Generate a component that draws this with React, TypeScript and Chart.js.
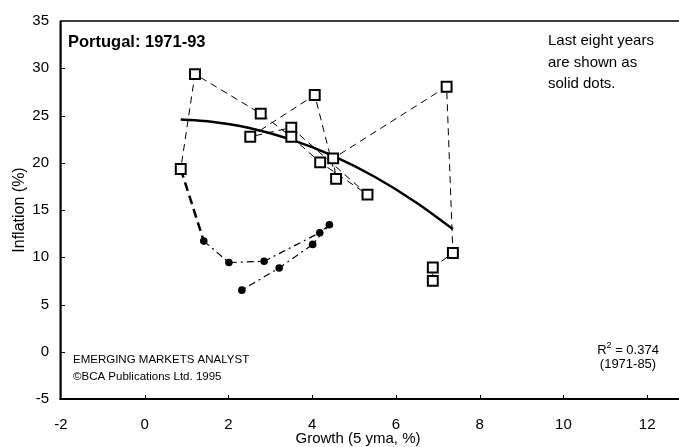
import React, { useEffect, useRef } from 'react';
import { Chart, registerables } from 'chart.js';

Chart.register(...registerables);

// 1971-85: hollow squares (growth 5yma %, inflation %)
const years1 = [1971, 1972, 1973, 1974, 1975, 1976, 1977, 1978, 1979, 1980, 1981, 1982, 1983, 1984, 1985];
const growth1 = [6.88, 6.88, 7.36, 7.21, 4.5, 4.57, 4.06, 2.52, 3.5, 5.32, 4.19, 3.5, 2.77, 1.2, 0.86];
const inflation1 = [7.5, 8.91, 10.45, 28.05, 20.46, 18.29, 27.17, 22.75, 23.72, 16.63, 20.04, 22.75, 25.2, 29.38, 19.34];

// 1986-93: solid dots
const years2 = [1986, 1987, 1988, 1989, 1990, 1991, 1992, 1993];
const growth2 = [1.41, 2.01, 2.85, 4.18, 4.41, 4.01, 3.21, 2.32];
const inflation2 = [11.71, 9.44, 9.57, 12.6, 13.44, 11.36, 8.87, 6.52];

// fitted trend curve (1971-85)
const trendGrowth = [0.86, 1.5, 2.5, 3.5, 4.5, 5.5, 6.5, 7.36];
const trendInflation = [24.58, 24.39, 23.68, 22.45, 20.73, 18.49, 15.75, 12.98];

const xTicks = [-2, 0, 2, 4, 6, 8, 10, 12];
const yTicks = [-5, 0, 5, 10, 15, 20, 25, 30, 35];

const FONT = '"Liberation Sans", Arial, Helvetica, sans-serif';

const decor = {
  id: 'decor',
  afterDatasetsDraw(chart: any) {
    const { ctx, chartArea: a, scales, width } = chart;
    const x = scales.x;
    const y = scales.y;
    ctx.save();
    ctx.strokeStyle = '#000';
    ctx.setLineDash([]);
    // frame
    ctx.lineWidth = 1.3;
    ctx.beginPath();
    ctx.moveTo(a.left, a.top);
    ctx.lineTo(width, a.top);
    ctx.stroke();
    ctx.lineWidth = 2.2;
    ctx.beginPath();
    ctx.moveTo(a.left - 0.4, a.top - 0.6);
    ctx.lineTo(a.left - 0.4, a.bottom + 1);
    ctx.stroke();
    ctx.lineWidth = 2;
    ctx.beginPath();
    ctx.moveTo(a.left - 1.5, a.bottom);
    ctx.lineTo(width, a.bottom);
    ctx.stroke();
    // inward ticks
    ctx.lineWidth = 1;
    ctx.beginPath();
    yTicks.slice(1, -1).forEach((v) => {
      const py = Math.round(y.getPixelForValue(v)) + 0.5;
      ctx.moveTo(a.left, py);
      ctx.lineTo(a.left + 4, py);
    });
    xTicks.slice(1).forEach((v) => {
      const px = Math.round(x.getPixelForValue(v)) + 0.5;
      ctx.moveTo(px, a.bottom);
      ctx.lineTo(px, a.bottom - 4);
    });
    ctx.stroke();

    // texts
    ctx.fillStyle = '#000';
    ctx.textBaseline = 'alphabetic';
    ctx.textAlign = 'left';
    ctx.font = `bold 16.5px ${FONT}`;
    ctx.fillText('Portugal: 1971-93', 68, 47);

    ctx.font = `15px ${FONT}`;
    ctx.fillText('Last eight years', 548, 45);
    ctx.fillText('are shown as', 548, 66.5);
    ctx.fillText('solid dots.', 548, 88);

    ctx.font = `11.5px ${FONT}`;
    ctx.fillText('EMERGING MARKETS ANALYST', 73, 363);
    ctx.fillText('\u00A9BCA Publications Ltd. 1995', 73, 379.5);

    // R^2
    ctx.font = `13px ${FONT}`;
    const r = 'R';
    const rest = ' = 0.374';
    const wR = ctx.measureText(r).width;
    const wRest = ctx.measureText(rest).width;
    ctx.font = `9px ${FONT}`;
    const wSup = ctx.measureText('2').width;
    const total = wR + wSup + wRest;
    let sx = 628 - total / 2;
    ctx.font = `13px ${FONT}`;
    ctx.fillText(r, sx, 354);
    sx += wR;
    ctx.font = `9px ${FONT}`;
    ctx.fillText('2', sx, 348);
    sx += wSup;
    ctx.font = `13px ${FONT}`;
    ctx.fillText(rest, sx, 354);
    ctx.textAlign = 'center';
    ctx.fillText('(1971-85)', 628, 367.5);

    // axis titles
    ctx.font = `15px ${FONT}`;
    ctx.fillText('Growth (5 yma, %)', 358, 443);
    ctx.save();
    ctx.translate(24, 210);
    ctx.rotate(-Math.PI / 2);
    ctx.font = `16px ${FONT}`;
    ctx.textAlign = 'center';
    ctx.fillText('Inflation (%)', 0, 0);
    ctx.restore();

    ctx.restore();
  },
};

export default function App() {
  const ref = useRef<HTMLCanvasElement | null>(null);

  useEffect(() => {
    if (!ref.current) return;
    const squares = years1.map((_, i) => ({ x: growth1[i], y: inflation1[i] }));
    const dots = years2.map((_, i) => ({ x: growth2[i], y: inflation2[i] }));
    const link = [squares[squares.length - 1], dots[0]];
    const trend = trendGrowth.map((g, i) => ({ x: g, y: trendInflation[i] }));

    const chart = new Chart(ref.current, {
      type: 'scatter',
      data: {
        datasets: [
          {
            label: '1971-85',
            data: squares,
            showLine: true,
            borderColor: '#000',
            borderWidth: 1,
            borderDash: [7, 5],
            pointStyle: 'rect',
            pointRadius: 7,
            pointBorderWidth: 2,
            pointBorderColor: '#000',
            pointBackgroundColor: '#fff',
          },
          {
            label: 'link',
            data: link,
            showLine: true,
            borderColor: '#000',
            borderWidth: 2.5,
            borderDash: [9, 5],
            pointRadius: 0,
          },
          {
            label: '1986-93',
            data: dots,
            showLine: true,
            borderColor: '#000',
            borderWidth: 1.2,
            borderDash: [7, 4, 2, 4],
            pointStyle: 'circle',
            pointRadius: 3.8,
            pointBorderWidth: 0,
            pointBackgroundColor: '#000',
          },
          {
            label: 'trend',
            data: trend,
            showLine: true,
            borderColor: '#000',
            borderWidth: 2.5,
            pointRadius: 0,
            cubicInterpolationMode: 'monotone',
          },
        ],
      } as any,
      options: {
        responsive: false,
        animation: false,
        devicePixelRatio: 1,
        layout: { padding: { top: 20, left: 0, right: 0, bottom: 0 } },
        plugins: {
          legend: { display: false },
          tooltip: { enabled: false },
          title: { display: false },
        },
        scales: {
          x: {
            type: 'linear',
            min: -2,
            max: 12.545,
            grid: { display: false, drawTicks: false },
            border: { display: false },
            afterBuildTicks: (s: any) => {
              s.ticks = xTicks.map((v) => ({ value: v }));
            },
            afterFit: (s: any) => {
              s.height = 48;
            },
            ticks: {
              color: '#000',
              font: { family: FONT, size: 15 },
              padding: 17,
              maxRotation: 0,
              autoSkip: false,
            },
          },
          y: {
            type: 'linear',
            min: -5,
            max: 35,
            grid: { display: false, drawTicks: false },
            border: { display: false },
            afterBuildTicks: (s: any) => {
              s.ticks = yTicks.map((v) => ({ value: v }));
            },
            afterFit: (s: any) => {
              s.width = 61;
            },
            ticks: {
              color: '#000',
              font: { family: FONT, size: 15 },
              padding: 12,
              autoSkip: false,
            },
          },
        },
      } as any,
      plugins: [decor],
    });
    return () => chart.destroy();
  }, []);

  return (
    <div style={{ position: 'fixed', left: 0, top: 0, width: 679, height: 447, background: '#fff' }}>
      <canvas ref={ref} width={679} height={447} style={{ display: 'block' }} />
    </div>
  );
}
